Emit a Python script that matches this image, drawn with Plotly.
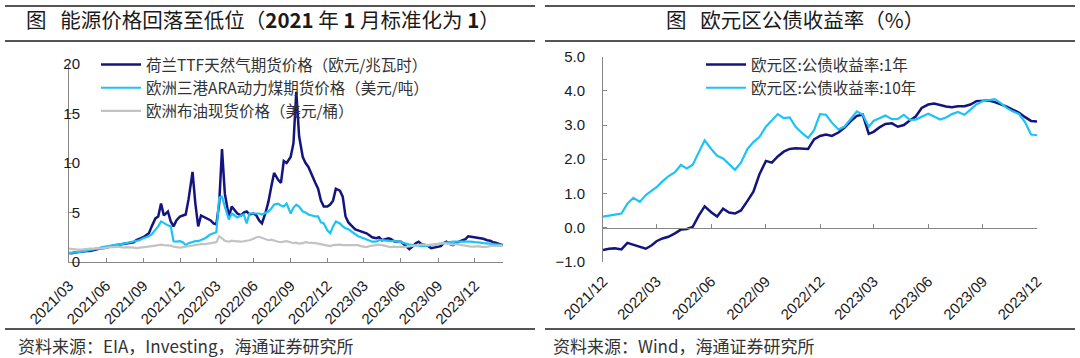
import pandas as pd
import plotly.graph_objects as go

# ---------------- Left chart data (weekly: days 1, 8, 15, 22 of each month, from 2021-03) ----------------
ttf = [
    0.90, 0.88, 0.95, 1.00,   # 2021-03
    1.00, 1.05, 1.10, 1.10,   # 2021-04
    1.20, 1.25, 1.30, 1.40,   # 2021-05
    1.45, 1.55, 1.60, 1.70,   # 2021-06
    1.75, 1.80, 1.85, 1.90,   # 2021-07
    1.90, 2.00, 2.20, 2.30,   # 2021-08
    2.50, 2.70, 2.90, 3.60,   # 2021-09
    4.40, 4.60, 5.90, 4.70,   # 2021-10
    5.10, 4.10, 3.60, 4.20,   # 2021-11
    4.60, 4.70, 4.80, 6.30,   # 2021-12
    9.10, 5.90, 3.60, 4.70,   # 2022-01
    4.50, 4.40, 4.20, 3.90,   # 2022-02
    3.80, 5.90, 11.40, 6.90,  # 2022-03
    4.60, 5.60, 5.20, 4.90,   # 2022-04
    4.70, 5.00, 5.10, 4.80,   # 2022-05
    4.90, 4.70, 4.20, 3.90,   # 2022-06
    5.00, 6.10, 7.60, 9.00,   # 2022-07
    8.30, 8.00, 10.20, 10.00, # 2022-08
    10.60, 12.00, 17.20, 12.70,  # 2022-09
    10.60, 10.00, 9.60, 8.90, # 2022-10
    8.00, 7.40, 6.20, 5.60,   # 2022-11
    5.60, 5.80, 6.20, 7.40,   # 2022-12
    7.20, 6.60, 4.60, 4.00,   # 2023-01
    3.60, 3.30, 3.20, 3.10,   # 2023-02
    3.00, 2.90, 2.70, 2.50,   # 2023-03
    2.40, 2.50, 2.20, 2.30,   # 2023-04
    2.40, 2.30, 2.10, 2.05,   # 2023-05
    2.05, 1.80, 1.50, 1.30,   # 2023-06
    1.60, 1.90, 2.05, 1.80,   # 2023-07
    1.70, 1.60, 1.40, 1.45,   # 2023-08
    1.50, 1.60, 1.90, 2.05,   # 2023-09
    1.80, 1.70, 1.90, 2.05,   # 2023-10
    2.20, 2.30, 2.60, 2.55,   # 2023-11
    2.50, 2.45, 2.40, 2.35,   # 2023-12
    2.20, 2.15, 2.00, 1.95,   # 2024-01
    1.80, 1.70,               # 2024-02
]
ara = [
    0.90, 0.92, 0.95, 1.00,   # 2021-03
    1.05, 1.10, 1.15, 1.20,   # 2021-04
    1.30, 1.35, 1.40, 1.50,   # 2021-05
    1.55, 1.60, 1.65, 1.70,   # 2021-06
    1.75, 1.80, 1.85, 1.90,   # 2021-07
    2.00, 2.05, 2.10, 2.20,   # 2021-08
    2.40, 2.50, 2.60, 2.80,   # 2021-09
    3.20, 3.60, 4.10, 3.90,   # 2021-10
    3.70, 3.60, 2.10, 2.05,   # 2021-11
    2.10, 2.00, 1.70, 1.90,   # 2021-12
    2.05, 2.10, 2.10, 2.20,   # 2022-01
    2.40, 2.60, 2.80, 2.90,   # 2022-02
    3.00, 6.50, 6.60, 5.60,   # 2022-03
    4.30, 4.90, 4.70, 4.50,   # 2022-04
    4.70, 4.80, 3.90, 4.90,   # 2022-05
    4.90, 4.90, 4.90, 4.80,   # 2022-06
    5.00, 5.10, 5.40, 5.80,   # 2022-07
    5.90, 5.70, 5.60, 5.90,   # 2022-08
    4.90, 5.50, 5.80, 5.60,   # 2022-09
    5.10, 5.00, 4.80, 4.70,   # 2022-10
    4.60, 4.60, 4.00, 3.90,   # 2022-11
    3.20, 2.90, 3.60, 4.10,   # 2022-12
    3.90, 3.60, 3.40, 3.30,   # 2023-01
    3.00, 2.80, 2.60, 2.50,   # 2023-02
    2.40, 2.30, 2.20, 2.05,   # 2023-03
    2.05, 2.20, 2.20, 2.15,   # 2023-04
    2.15, 2.10, 2.15, 2.05,   # 2023-05
    2.00, 1.90, 1.80, 1.75,   # 2023-06
    1.70, 1.70, 1.65, 1.60,   # 2023-07
    1.60, 1.65, 1.70, 1.75,   # 2023-08
    1.80, 1.85, 1.90, 1.95,   # 2023-09
    2.00, 2.05, 2.05, 2.05,   # 2023-10
    2.05, 2.10, 2.05, 2.05,   # 2023-11
    2.00, 2.00, 1.95, 1.90,   # 2023-12
    1.90, 1.85, 1.80, 1.75,   # 2024-01
    1.70, 1.70,               # 2024-02
]
brent = [
    1.35, 1.30, 1.30, 1.25,   # 2021-03
    1.25, 1.30, 1.30, 1.35,   # 2021-04
    1.35, 1.40, 1.35, 1.40,   # 2021-05
    1.45, 1.45, 1.50, 1.50,   # 2021-06
    1.55, 1.50, 1.45, 1.50,   # 2021-07
    1.50, 1.45, 1.40, 1.45,   # 2021-08
    1.50, 1.55, 1.55, 1.60,   # 2021-09
    1.65, 1.70, 1.75, 1.70,   # 2021-10
    1.70, 1.65, 1.55, 1.50,   # 2021-11
    1.45, 1.50, 1.55, 1.60,   # 2021-12
    1.65, 1.70, 1.75, 1.80,   # 2022-01
    1.80, 1.85, 1.90, 1.95,   # 2022-02
    2.00, 2.60, 2.40, 2.15,   # 2022-03
    2.05, 2.15, 2.10, 2.05,   # 2022-04
    2.05, 2.10, 2.15, 2.20,   # 2022-05
    2.35, 2.50, 2.55, 2.45,   # 2022-06
    2.30, 2.20, 2.25, 2.15,   # 2022-07
    2.05, 2.00, 2.05, 2.10,   # 2022-08
    2.00, 1.90, 1.95, 1.85,   # 2022-09
    1.90, 2.00, 1.95, 1.95,   # 2022-10
    1.90, 1.85, 1.80, 1.75,   # 2022-11
    1.65, 1.60, 1.70, 1.75,   # 2022-12
    1.75, 1.70, 1.70, 1.65,   # 2023-01
    1.70, 1.65, 1.70, 1.60,   # 2023-02
    1.55, 1.50, 1.60, 1.65,   # 2023-03
    1.70, 1.75, 1.70, 1.60,   # 2023-04
    1.55, 1.50, 1.55, 1.50,   # 2023-05
    1.55, 1.50, 1.55, 1.55,   # 2023-06
    1.60, 1.65, 1.70, 1.75,   # 2023-07
    1.75, 1.70, 1.75, 1.70,   # 2023-08
    1.80, 1.85, 1.90, 1.85,   # 2023-09
    1.80, 1.75, 1.80, 1.75,   # 2023-10
    1.70, 1.65, 1.60, 1.55,   # 2023-11
    1.55, 1.60, 1.55, 1.50,   # 2023-12
    1.55, 1.60, 1.65, 1.60,   # 2024-01
    1.65, 1.60,               # 2024-02
]
left_names = ["荷兰TTF天然气期货价格（欧元/兆瓦时）",
              "欧洲三港ARA动力煤期货价格（美元/吨）",
              "欧洲布油现货价格（美元/桶）"]
left_ticks = ["2021/03", "2021/06", "2021/09", "2021/12", "2022/03", "2022/06",
              "2022/09", "2022/12", "2023/03", "2023/06", "2023/09", "2023/12"]

# ---------------- Right chart data (days 1, 11, 21 of each month, from 2021-12) ----------------
yield_1y = [
    -0.66, -0.62, -0.61,  # 2021-12
    -0.64, -0.45, -0.51,  # 2022-01
    -0.58, -0.62, -0.52,  # 2022-02
    -0.40, -0.32, -0.27,  # 2022-03
    -0.17, -0.06, -0.04,  # 2022-04
    0.02, 0.35, 0.62,     # 2022-05
    0.45, 0.32, 0.55,     # 2022-06
    0.44, 0.41, 0.50,     # 2022-07
    0.78, 1.05, 1.55,     # 2022-08
    1.95, 1.90, 2.08,     # 2022-09
    2.22, 2.30, 2.32,     # 2022-10
    2.30, 2.30, 2.58,     # 2022-11
    2.68, 2.72, 2.68,     # 2022-12
    2.78, 2.92, 3.10,     # 2023-01
    3.27, 3.30, 2.74,     # 2023-02
    2.80, 2.93, 3.03,     # 2023-03
    3.05, 2.95, 3.00,     # 2023-04
    3.13, 3.25, 3.50,     # 2023-05
    3.60, 3.63, 3.58,     # 2023-06
    3.54, 3.52, 3.55,     # 2023-07
    3.55, 3.60, 3.70,     # 2023-08
    3.72, 3.72, 3.67,     # 2023-09
    3.61, 3.54, 3.45,     # 2023-10
    3.36, 3.23, 3.12,     # 2023-11
    3.10,                 # 2023-12
]
yield_10y = [
    0.32, 0.36, 0.38,     # 2021-12
    0.41, 0.70, 0.87,     # 2022-01
    0.75, 0.95, 1.07,     # 2022-02
    1.18, 1.35, 1.50,     # 2022-03
    1.62, 1.83, 1.73,     # 2022-04
    1.84, 2.20, 2.55,     # 2022-05
    2.30, 2.10, 2.02,     # 2022-06
    1.85, 1.69, 1.90,     # 2022-07
    2.30, 2.50, 2.65,     # 2022-08
    2.95, 3.14, 3.32,     # 2022-09
    3.20, 3.22, 2.95,     # 2022-10
    2.76, 2.62, 2.85,     # 2022-11
    3.32, 3.30, 3.07,     # 2022-12
    2.87, 2.95, 3.15,     # 2023-01
    3.40, 3.30, 2.95,     # 2023-02
    3.12, 3.20, 3.28,     # 2023-03
    3.17, 3.18, 3.30,     # 2023-04
    3.15, 3.16, 3.25,     # 2023-05
    3.33, 3.25, 3.16,     # 2023-06
    3.22, 3.32, 3.38,     # 2023-07
    3.30, 3.45, 3.60,     # 2023-08
    3.70, 3.74, 3.76,     # 2023-09
    3.64, 3.50, 3.40,     # 2023-10
    3.32, 3.08, 2.72,     # 2023-11
    2.70,                 # 2023-12
]
right_names = ["欧元区:公债收益率:1年", "欧元区:公债收益率:10年"]
right_ticks = ["2021/12", "2022/03", "2022/06", "2022/09", "2022/12",
               "2023/03", "2023/06", "2023/09", "2023/12"]

# ---------------- dates ----------------
left_dates = []
for m in pd.date_range("2021-03-01", periods=36, freq="MS"):
    for d in (0, 7, 14, 21):
        left_dates.append(m + pd.Timedelta(days=d))
left_dates = left_dates[:len(ttf)]

right_dates = []
for m in pd.date_range("2021-12-01", periods=24, freq="MS"):
    for d in (0, 10, 20):
        right_dates.append(m + pd.Timedelta(days=d))
right_dates.append(pd.Timestamp("2023-12-01"))

left_tickvals = list(pd.date_range("2021-03-01", periods=len(left_ticks), freq="3MS"))
right_tickvals = list(pd.date_range("2021-12-01", periods=len(right_ticks), freq="3MS"))

NAVY = "#14147f"
CYAN = "#1ec3f5"
GRAY = "#c3c3c3"
AXC = "#868686"
NUMFONT = "Liberation Sans, Arial, sans-serif"
CJK = "Noto Sans CJK SC, sans-serif"

W, H = 1080, 358
def px(x):
    return x / W
def py(y):
    return (H - y) / H

fig = go.Figure()
fig.add_trace(go.Scatter(x=left_dates, y=ttf, name=left_names[0], mode="lines",
                         line=dict(color=NAVY, width=2.5), xaxis="x", yaxis="y", legend="legend"))
fig.add_trace(go.Scatter(x=left_dates, y=ara, name=left_names[1], mode="lines",
                         line=dict(color=CYAN, width=2.2), xaxis="x", yaxis="y", legend="legend"))
fig.add_trace(go.Scatter(x=left_dates, y=brent, name=left_names[2], mode="lines",
                         line=dict(color=GRAY, width=2.2), xaxis="x", yaxis="y", legend="legend"))
fig.add_trace(go.Scatter(x=right_dates, y=yield_1y, name=right_names[0], mode="lines",
                         line=dict(color=NAVY, width=2.5), xaxis="x2", yaxis="y2", legend="legend2"))
fig.add_trace(go.Scatter(x=right_dates, y=yield_10y, name=right_names[1], mode="lines",
                         line=dict(color=CYAN, width=2.2), xaxis="x2", yaxis="y2", legend="legend2"))
# carrier for the zero-line axis of the right chart
fig.add_trace(go.Scatter(x=[right_dates[0]], y=[0], mode="lines", showlegend=False,
                         hoverinfo="skip", line=dict(width=0), xaxis="x3", yaxis="y2"))

left_dom_y = [py(262), py(64)]
right_dom_y = [py(261.7), py(56.7)]
zero_pos = right_dom_y[0] + (right_dom_y[1] - right_dom_y[0]) * (1 / 6)

tickfont_y = dict(family=NUMFONT, size=15, color="#1a1a1a")
tickfont_x = dict(family=NUMFONT, size=15, color="#1a1a1a")

fig.update_layout(
    width=W, height=H, autosize=False,
    margin=dict(l=0, r=0, t=0, b=0, autoexpand=False),
    paper_bgcolor="white", plot_bgcolor="white",
    showlegend=True,
    xaxis=dict(domain=[px(69), px(503)], anchor="y", type="date", automargin=False,
               range=["2021-03-01", "2024-02-09"],
               tickvals=left_tickvals, ticktext=left_ticks, tickangle=-45,
               ticks="inside", ticklen=4, tickcolor=AXC, showline=True, linecolor=AXC,
               linewidth=1, showgrid=False, zeroline=False, tickfont=tickfont_x,
               ticklabelstandoff=8),
    yaxis=dict(domain=left_dom_y, anchor="x", range=[0, 20], dtick=5, automargin=False,
               ticks="inside", ticklen=4, tickcolor=AXC, showline=True, linecolor=AXC,
               linewidth=1, showgrid=False, zeroline=False, tickfont=tickfont_y,
               ticklabelstandoff=-15),
    xaxis2=dict(domain=[px(603), px(1037)], anchor="y2", type="date", automargin=False,
                range=["2021-12-01", "2023-12-01"],
                tickvals=right_tickvals, ticktext=right_ticks, tickangle=-45,
                ticks="", showline=False, showgrid=False, zeroline=False,
                tickfont=tickfont_x, ticklabelstandoff=7),
    xaxis3=dict(overlaying="x2", anchor="free", position=zero_pos, type="date",
                automargin=False,
                range=["2021-12-01", "2023-12-01"], tickvals=right_tickvals,
                showticklabels=False, ticks="inside", ticklen=4, tickcolor=AXC,
                showline=True, linecolor=AXC, linewidth=1, showgrid=False, zeroline=False),
    yaxis2=dict(domain=right_dom_y, anchor="x2", range=[-1, 5], dtick=1, tickformat=".1f",
                automargin=False,
                ticks="inside", ticklen=4, tickcolor=AXC, showline=True, linecolor=AXC,
                linewidth=1, showgrid=False, zeroline=False, tickfont=tickfont_y,
                ticklabelstandoff=14),
    legend=dict(x=px(96), y=py(48), xanchor="left", yanchor="top",
                bgcolor="rgba(0,0,0,0)", font=dict(family=CJK, size=15.5, color="#333333"),
                tracegroupgap=0, itemwidth=40),
    legend2=dict(x=px(701), y=py(48), xanchor="left", yanchor="top",
                 bgcolor="rgba(0,0,0,0)", font=dict(family=CJK, size=15.5, color="#333333"),
                 tracegroupgap=0, itemwidth=40),
)

# decorative rules of the report frame
rules = [
    (5, 535, 6, 2.2), (5, 535, 41, 1.8), (5, 535, 329, 1.8),
    (545, 1075, 6, 2.2), (545, 1075, 41, 1.8), (545, 1075, 329, 1.8),
]
for x0, x1, yy, w in rules:
    fig.add_shape(type="line", xref="paper", yref="paper", x0=px(x0), x1=px(x1),
                  y0=py(yy), y1=py(yy), line=dict(color="#555555", width=w))

fig.add_annotation(xref="paper", yref="paper", x=px(263), y=py(19), xanchor="center",
                   yanchor="middle", showarrow=False,
                   text="图&nbsp;&nbsp;&nbsp;能源价格回落至低位（<b>2021</b> 年 <b>1</b> 月标准化为 <b>1</b>）",
                   font=dict(family=CJK, size=20.5, color="#1a1a1a"))
fig.add_annotation(xref="paper", yref="paper", x=px(795), y=py(19), xanchor="center",
                   yanchor="middle", showarrow=False,
                   text="图&nbsp;&nbsp;&nbsp;欧元区公债收益率（%）",
                   font=dict(family=CJK, size=20.5, color="#1a1a1a"))
fig.add_annotation(xref="paper", yref="paper", x=px(16), y=py(345), xanchor="left",
                   yanchor="middle", showarrow=False,
                   text="资料来源：EIA，Investing，海通证券研究所",
                   font=dict(family=CJK, size=17, color="#333333"))
fig.add_annotation(xref="paper", yref="paper", x=px(551), y=py(345), xanchor="left",
                   yanchor="middle", showarrow=False,
                   text="资料来源：Wind，海通证券研究所",
                   font=dict(family=CJK, size=17, color="#333333"))

fig.write_html("out.html",
               config={"displayModeBar": False},
               post_script="document.body.style.margin='0';"
                           "document.body.style.overflow='hidden';")
